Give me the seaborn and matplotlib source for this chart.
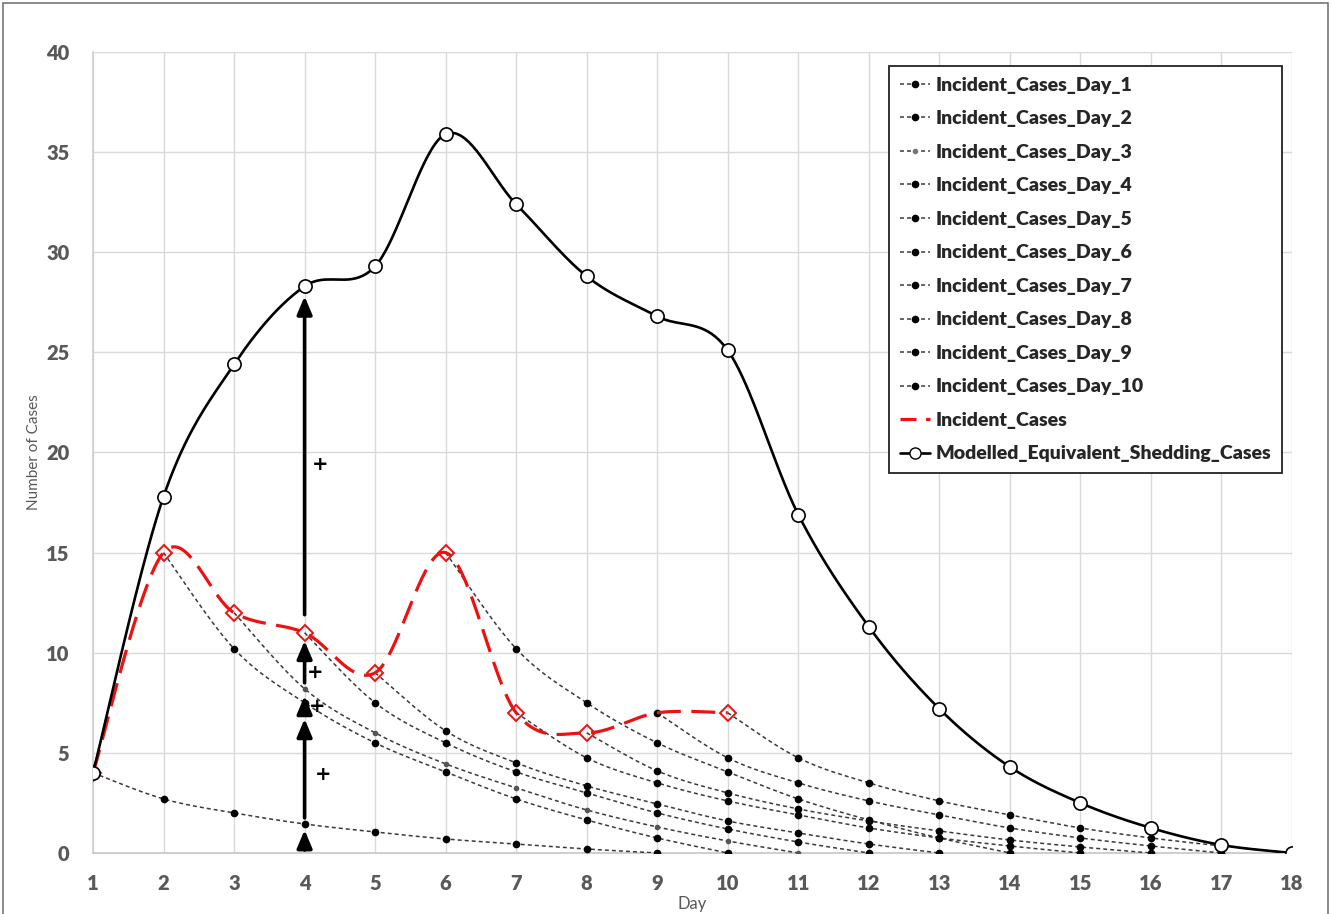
import numpy as np
import pandas as pd
import matplotlib
matplotlib.use("Agg")
import matplotlib.pyplot as plt
from matplotlib.lines import Line2D
from matplotlib.patches import Rectangle
import seaborn as sns

# ---------------- data ----------------
days = list(range(1, 19))
incident_days = list(range(1, 11))
incident_cases = [4, 15, 12, 11, 9, 15, 7, 6, 7, 7]
modelled_cases = [4.0, 17.8, 24.4, 28.3, 29.3, 35.9, 32.4, 28.8, 26.8, 25.1,
                  16.9, 11.3, 7.2, 4.3, 2.5, 1.25, 0.4, 0.0]

# decaying contribution of each day's incident cases (start day k .. k+8)
cases_day_1 = [4, 2.7, 2.0, 1.45, 1.05, 0.7, 0.45, 0.2, 0]
cases_day_2 = [15, 10.2, 7.5, 5.5, 4.05, 2.7, 1.65, 0.75, 0]
cases_day_3 = [12, 8.2, 6.0, 4.45, 3.25, 2.15, 1.3, 0.6, 0]
cases_day_4 = [11, 7.5, 5.5, 4.05, 3.0, 2.0, 1.2, 0.55, 0]
cases_day_5 = [9, 6.1, 4.5, 3.35, 2.45, 1.6, 1.0, 0.45, 0]
cases_day_6 = [15, 10.2, 7.5, 5.5, 4.05, 2.7, 1.65, 0.75, 0]
cases_day_7 = [7, 4.75, 3.5, 2.6, 1.9, 1.25, 0.75, 0.35, 0]
cases_day_8 = [6, 4.1, 3.0, 2.2, 1.6, 1.1, 0.65, 0.3, 0]
cases_day_9 = [7, 4.75, 3.5, 2.6, 1.9, 1.25, 0.75, 0.35, 0]
cases_day_10 = [7, 4.75, 3.5, 2.6, 1.9, 1.25, 0.75, 0.35, 0]
decay_series = [cases_day_1, cases_day_2, cases_day_3, cases_day_4, cases_day_5,
                cases_day_6, cases_day_7, cases_day_8, cases_day_9, cases_day_10]
decay_labels = [f"Incident_Cases_Day_{k}" for k in range(1, 11)]

# stacked arrows at day 4 (from, to) and "+" annotations
arrow_x = 4
arrow_segments = [(0.15, 1.15), (1.75, 6.7), (7.15, 7.85), (8.5, 10.6), (11.9, 27.8)]
plus_marks = [(4.26, 3.9), (4.18, 7.3), (4.15, 9.0), (4.22, 19.4)]

# ---------------- style ----------------
sns.set_theme(style="whitegrid")
plt.rcParams['font.family'] = ['Lato', 'DejaVu Sans']
GRAY = "#595959"
GRID = "#d9d9d9"


def smooth(x, y, n=40):
    P = np.column_stack([np.asarray(x, float), np.asarray(y, float)])
    Pm = np.vstack([P[0], P, P[-1]])
    out = []
    t = np.linspace(0, 1, n)[:, None]
    for i in range(len(P) - 1):
        p0, p1, p2, p3 = Pm[i], Pm[i + 1], Pm[i + 2], Pm[i + 3]
        c1 = p1 + (p2 - p0) / 6
        c2 = p2 - (p3 - p1) / 6
        seg = (1 - t) ** 3 * p1 + 3 * (1 - t) ** 2 * t * c1 + 3 * (1 - t) * t ** 2 * c2 + t ** 3 * p2
        out.append(seg if i == 0 else seg[1:])
    return np.vstack(out)


fig = plt.figure(figsize=(13.32, 9.14), dpi=100)
ax = fig.add_axes([93 / 1332, 1 - 853 / 914, (1292 - 93) / 1332, (853 - 52) / 914])
ax.set_facecolor("white")

DECAY_COL = "#3a3a3a"
# decay curves
for k, vals in enumerate(decay_series, start=1):
    xs = list(range(k, k + len(vals)))
    s = smooth(xs, vals)
    sns.lineplot(x=s[:, 0], y=s[:, 1], ax=ax, color=DECAY_COL, linewidth=1.1,
                 sort=False, estimator=None, zorder=3)
    ax.lines[-1].set_dashes((2.6, 2.0))
    start = 0 if k == 9 else 1
    ms = 3.0 if k == 3 else 4.5
    mc = "#555555" if k == 3 else "black"
    ax.plot(xs[start:], vals[start:], linestyle="none", marker="o", ms=ms,
            color=mc, zorder=4)

# incident cases (red dashed)
s = smooth(incident_days, incident_cases)
sns.lineplot(x=s[:, 0], y=s[:, 1], ax=ax, color="#ee1111", linewidth=2.3,
             sort=False, estimator=None, zorder=5)
ax.lines[-1].set_dashes((7.5, 3.3))
red_mark_idx = [i for i in range(len(incident_days)) if incident_days[i] != 9]
ax.plot([incident_days[i] for i in red_mark_idx], [incident_cases[i] for i in red_mark_idx],
        linestyle="none", marker="D", ms=8.5, mfc="none", mec="#ee1111", mew=1.4, zorder=6)

# modelled equivalent shedding cases
s = smooth(days, modelled_cases)
sns.lineplot(x=s[:, 0], y=s[:, 1], ax=ax, color="black", linewidth=1.9,
             sort=False, estimator=None, zorder=7)
ax.plot(days, modelled_cases, linestyle="none", marker="o", ms=9.5, mfc="white",
        mec="black", mew=1.2, zorder=8)

# arrows
for y0, y1 in arrow_segments:
    ax.annotate("", xy=(arrow_x, y1), xytext=(arrow_x, y0),
                arrowprops=dict(arrowstyle="-|>,head_length=0.9,head_width=0.38",
                                color="black", lw=2.6, shrinkA=0, shrinkB=0),
                zorder=9)
for px, py in plus_marks:
    ax.text(px, py, "+", ha="center", va="center", fontsize=14, fontweight="bold",
            color="black", family="DejaVu Sans", zorder=9)

# axes
ax.set_xlim(1, 18)
ax.set_ylim(0, 40)
ax.set_xticks(days, labels=[str(d) for d in days], fontweight="heavy",
              fontsize=14.5, color=GRAY)
yt = list(range(0, 41, 5))
ax.set_yticks(yt, labels=[str(v) for v in yt], fontweight="heavy",
              fontsize=14.5, color=GRAY)
ax.grid(True, color=GRID, linewidth=1.0)
for sp in ax.spines.values():
    sp.set_visible(False)
ax.spines['bottom'].set_visible(True)
ax.spines['bottom'].set_color("#c8c8c8")
ax.spines['left'].set_visible(True)
ax.spines['left'].set_color("#d0d0d0")
ax.tick_params(axis='x', length=0, pad=15)
ax.tick_params(axis='y', length=0, pad=17)
ax.set_ylabel("Number of Cases", fontsize=11, color=GRAY)
ax.set_xlabel("Day", fontsize=12, color=GRAY)
ax.xaxis.set_label_coords(0.5, (853 - 896) / 801)
ax.yaxis.set_label_coords(-52 / 1199, 0.5)

# legend
handles = []
for k in range(1, 11):
    ms = 3.0 if k == 3 else 4.5
    mc = "#777777" if k == 3 else "black"
    h = Line2D([], [], color=DECAY_COL, linewidth=1.1, marker="o", ms=ms, mfc=mc, mec=mc)
    h.set_dashes((2.6, 2.0))
    handles.append(h)
hr = Line2D([], [], color="#ee1111", linewidth=2.3)
hr.set_dashes((5.0, 3.0))
handles.append(hr)
handles.append(Line2D([], [], color="black", linewidth=1.9, marker="o", ms=8,
                      mfc="white", mec="black"))
labels = decay_labels + ["Incident_Cases", "Modelled_Equivalent_Shedding_Cases"]
leg = ax.legend(handles, labels, loc="upper right",
                bbox_to_anchor=((1282 - 93) / 1199, (853 - 66) / 801),
                borderaxespad=0, frameon=True, fancybox=False, framealpha=1,
                edgecolor="#222222", prop={"family": "Lato", "weight": "heavy", "size": 14},
                labelspacing=0.85, handlelength=1.55, handletextpad=0.3,
                borderpad=0.55)
leg.get_frame().set_linewidth(1.3)
leg.set_zorder(20)

# outer border
fig.patches.append(Rectangle((3 / 1332, -5 / 914), 1325 / 1332, 916 / 914,
                             transform=fig.transFigure, fill=False,
                             edgecolor="#777777", linewidth=1.2))

fig.savefig("out.png", dpi=100, facecolor="white")
